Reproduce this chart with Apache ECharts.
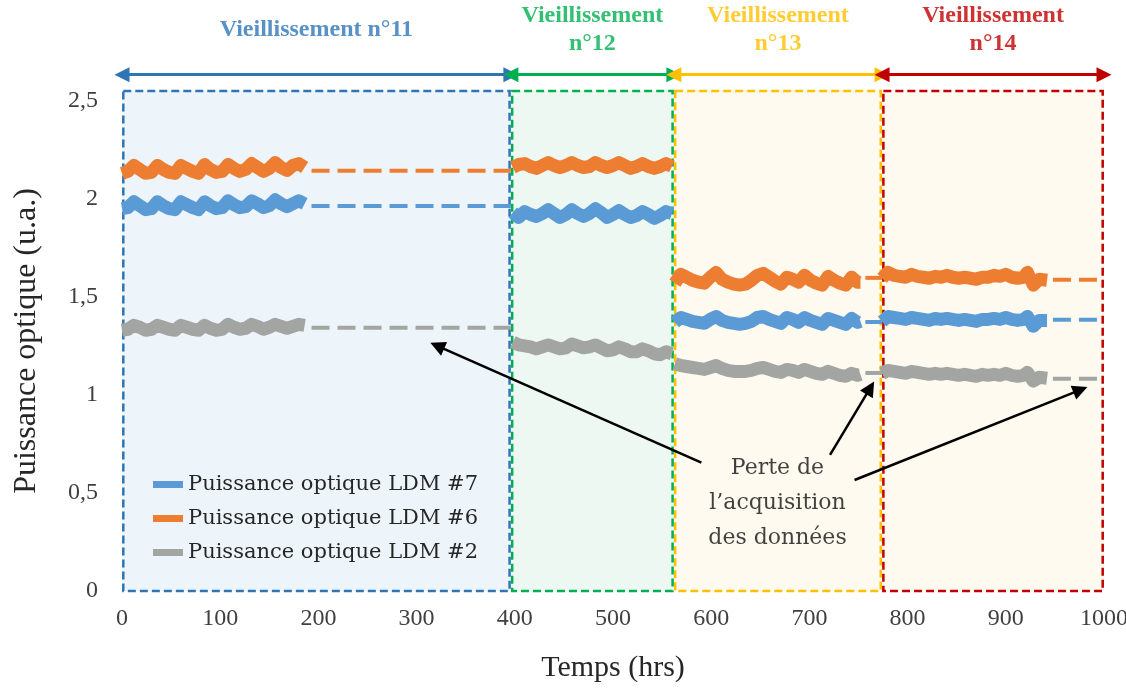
<!DOCTYPE html>
<html>
<head>
<meta charset="utf-8">
<script src="https://cdn.jsdelivr.net/npm/echarts@6/dist/echarts.min.js"></script>
<style>
  html, body { margin: 0; padding: 0; background: #ffffff; }
  #chart { width: 1126px; height: 690px; }
</style>
</head>
<body>
<div id="chart"></div>
<script>
// ---- Measurement segments (hours) ----
const T1 = [0,6,12,18,24,30,36,42,48,54,60,66,72,78,84,90,96,102,108,114,120,126,132,138,144,150,156,162,168,174,180,186];
const T2 = [398,404,410,416,422,428,434,440,446,452,458,464,470,476,482,488,494,500,506,512,518,524,530,536,542,548,554,560];
const T3 = [563,569,575,581,587,593,599,605,611,617,623,629,635,641,647,653,659,665,671,677,683,689,695,701,707,713,719,725,731,737,743,749,752];
const T4 = [774,780,786,792,798,804,810,816,822,828,834,840,846,852,858,864,870,876,882,888,894,900,906,912,918,922,928,934,942];

// ---- LDM #7 (u.a.) ----
const ldm7_s1 = [1.95,1.955,1.985,1.965,1.945,1.95,1.985,1.965,1.95,1.945,1.985,1.97,1.955,1.945,1.985,1.965,1.95,1.955,1.99,1.97,1.955,1.96,1.99,1.975,1.955,1.965,1.995,1.975,1.96,1.975,1.99,1.975];
const ldm7_s2 = [1.93,1.905,1.935,1.92,1.91,1.925,1.945,1.925,1.905,1.92,1.945,1.925,1.91,1.925,1.95,1.93,1.905,1.92,1.94,1.92,1.905,1.915,1.935,1.92,1.9,1.915,1.935,1.925];
const ldm7_s3 = [1.37,1.395,1.385,1.375,1.37,1.365,1.385,1.4,1.38,1.37,1.365,1.36,1.365,1.375,1.395,1.4,1.385,1.375,1.365,1.395,1.385,1.37,1.395,1.38,1.37,1.36,1.39,1.38,1.37,1.36,1.39,1.37,1.375];
const ldm7_s4 = [1.375,1.4,1.395,1.39,1.385,1.395,1.39,1.385,1.38,1.39,1.385,1.39,1.385,1.38,1.385,1.38,1.375,1.385,1.385,1.39,1.385,1.395,1.385,1.38,1.385,1.4,1.35,1.38,1.38];

// ---- LDM #6 (u.a.) ----
const ldm6_s1 = [2.13,2.14,2.17,2.15,2.13,2.135,2.17,2.15,2.135,2.13,2.17,2.155,2.14,2.13,2.175,2.15,2.135,2.14,2.175,2.155,2.14,2.15,2.18,2.16,2.14,2.155,2.185,2.16,2.145,2.17,2.18,2.16];
const ldm6_s2 = [2.16,2.175,2.18,2.165,2.155,2.17,2.185,2.17,2.16,2.17,2.185,2.17,2.16,2.165,2.185,2.17,2.16,2.17,2.185,2.17,2.155,2.165,2.18,2.165,2.155,2.165,2.18,2.165];
const ldm6_s3 = [1.57,1.615,1.6,1.585,1.575,1.57,1.6,1.625,1.59,1.575,1.565,1.56,1.565,1.585,1.61,1.62,1.6,1.58,1.565,1.6,1.59,1.575,1.61,1.585,1.57,1.56,1.605,1.585,1.57,1.56,1.6,1.575,1.575];
const ldm6_s4 = [1.595,1.625,1.61,1.605,1.6,1.615,1.605,1.6,1.595,1.605,1.6,1.61,1.6,1.595,1.6,1.595,1.59,1.6,1.6,1.61,1.605,1.615,1.6,1.595,1.6,1.625,1.56,1.59,1.585];

// ---- LDM #2 (u.a.) ----
const ldm2_s1 = [1.33,1.335,1.355,1.345,1.33,1.335,1.355,1.345,1.335,1.33,1.355,1.345,1.335,1.33,1.355,1.34,1.33,1.335,1.36,1.345,1.335,1.34,1.36,1.35,1.335,1.345,1.36,1.35,1.34,1.35,1.36,1.355];
const ldm2_s2 = [1.27,1.255,1.25,1.245,1.235,1.245,1.255,1.245,1.235,1.24,1.26,1.25,1.24,1.245,1.255,1.24,1.225,1.23,1.245,1.235,1.22,1.22,1.235,1.225,1.21,1.205,1.22,1.21];
const ldm2_s3 = [1.16,1.15,1.145,1.14,1.135,1.13,1.14,1.15,1.135,1.125,1.12,1.12,1.12,1.125,1.135,1.14,1.13,1.12,1.115,1.13,1.125,1.115,1.13,1.12,1.11,1.105,1.12,1.11,1.1,1.095,1.11,1.1,1.105];
const ldm2_s4 = [1.11,1.125,1.12,1.115,1.11,1.12,1.115,1.11,1.105,1.11,1.105,1.11,1.105,1.1,1.105,1.1,1.095,1.105,1.1,1.105,1.1,1.11,1.1,1.095,1.1,1.115,1.07,1.09,1.085];

// ---- Acquisition losses: spans (hours) and last known level per LDM ----
const GAP_SPANS = [[193, 396], [757, 774], [948, 1000]];
const ldm7_gap = [1.964, 1.372, 1.383];
const ldm6_gap = [2.143, 1.597, 1.587];
const ldm2_gap = [1.342, 1.112, 1.082];

// ---- Ageing phases (hours) ----
const PHASE_SPANS = [[0, 396], [396, 562], [562, 774], [774, 1000]];
const PHASE_LABELS = ['Vieillissement n°11', 'Vieillissement\nn°12', 'Vieillissement\nn°13', 'Vieillissement\nn°14'];
const PHASE_LABEL_X = [198, 479, 668, 887];

// ---- Axis ticks ----
const X_MIN = 0, X_MAX = 1000, X_STEP = 100;
const Y_MIN = 0, Y_TOP = 2.55, Y_STEP = 0.5;

// ---- Note on data loss ----
const NOTE_TEXT = 'Perte de\nl\u2019acquisition\ndes données';
const NOTE_POS = [667.5, 0.449];
const NOTE_ARROWS = [
  [[590, 0.655], [321, 1.25]],
  [[721, 0.694], [762, 1.036]],
  [[746, 0.566], [976, 1.026]]
];

// ---- Styling ----
const SERIES_NAMES = ['Puissance optique LDM #7', 'Puissance optique LDM #6', 'Puissance optique LDM #2'];
const SERIES_COLORS = ['#5B9BD5', '#ED7D31', '#A3A5A3'];
const PHASE_STROKES = ['#2E75B6', '#00B050', '#FFC000', '#C00000'];
const PHASE_FILLS = ['#EEF5FA', '#EEF8F3', '#FEFAF0', '#FEFAF0'];
const ARROW_Y = 2.633;
const LABEL_Y = 2.86;

const SEGMENT_TIMES = [T1, T2, T3, T4];
const LDM_SEGMENTS = [
  [ldm7_s1, ldm7_s2, ldm7_s3, ldm7_s4],
  [ldm6_s1, ldm6_s2, ldm6_s3, ldm6_s4],
  [ldm2_s1, ldm2_s2, ldm2_s3, ldm2_s4]
];
const LDM_GAPS = [ldm7_gap, ldm6_gap, ldm2_gap];

function pairs(ts, vs) { return ts.map((t, i) => [t, vs[i]]); }

const series = [];

// Phase background boxes
series.push({
  type: 'custom',
  silent: true,
  z: 0,
  clip: false,
  data: PHASE_SPANS,
  encode: { x: [0, 1] },
  renderItem: function (params, api) {
    const i = params.dataIndex;
    const a = api.coord([api.value(0), Y_TOP]);
    const b = api.coord([api.value(1), Y_MIN]);
    return {
      type: 'rect',
      shape: { x: a[0], y: a[1], width: b[0] - a[0], height: b[1] - a[1] },
      style: { fill: PHASE_FILLS[i], stroke: null }
    };
  }
});
// Phase dashed borders
series.push({
  type: 'custom',
  silent: true,
  z: 1,
  clip: false,
  data: PHASE_SPANS,
  encode: { x: [0, 1] },
  renderItem: function (params, api) {
    const i = params.dataIndex;
    const a = api.coord([api.value(0), Y_TOP]);
    const b = api.coord([api.value(1), Y_MIN]);
    const inset = 1.3;
    return {
      type: 'rect',
      z2: 10 - i,
      shape: { x: a[0] + inset, y: a[1], width: b[0] - a[0] - 2 * inset, height: b[1] - a[1] },
      style: { fill: null, stroke: PHASE_STROKES[i], lineWidth: 2.5, lineDash: [8, 4] }
    };
  }
});

// Measured power, one series per segment
LDM_SEGMENTS.forEach((segs, k) => {
  segs.forEach((vals, s) => {
    series.push({
      name: SERIES_NAMES[k],
      type: 'line',
      z: 3,
      showSymbol: false,
      symbol: 'none',
      data: pairs(SEGMENT_TIMES[s], vals),
      itemStyle: { color: SERIES_COLORS[k] },
      lineStyle: { color: SERIES_COLORS[k], width: 13, join: 'round', cap: 'butt' },
      emphasis: { disabled: true }
    });
  });
  // Levels held during acquisition losses
  GAP_SPANS.forEach((span, g) => {
    series.push({
      name: SERIES_NAMES[k],
      type: 'line',
      z: 3,
      showSymbol: false,
      symbol: 'none',
      data: [[span[0], LDM_GAPS[k][g]], [span[1], LDM_GAPS[k][g]]],
      itemStyle: { color: SERIES_COLORS[k] },
      lineStyle: { color: SERIES_COLORS[k], width: 4, type: [18, 8] },
      emphasis: { disabled: true }
    });
  });
});

// Double-headed arrows marking each phase
series.push({
  type: 'lines',
  coordinateSystem: 'cartesian2d',
  clip: false,
  silent: true,
  z: 4,
  symbol: ['triangle', 'triangle'],
  symbolSize: 15,
  data: PHASE_SPANS.map((span, i) => ({
    coords: [[span[0], ARROW_Y], [span[1], ARROW_Y]],
    lineStyle: { color: PHASE_STROKES[i], width: 3, opacity: 1 }
  }))
});

// Phase titles
series.push({
  type: 'scatter',
  clip: false,
  silent: true,
  z: 4,
  symbolSize: 0,
  data: PHASE_LABELS.map((txt, i) => ({
    value: [PHASE_LABEL_X[i], LABEL_Y],
    label: {
      show: true,
      position: 'inside',
      formatter: txt,
      color: PHASE_STROKES[i],
      fontFamily: 'Liberation Serif',
      fontWeight: 'bold',
      fontSize: 24,
      lineHeight: 28,
      align: 'center',
      verticalAlign: 'middle'
    }
  }))
});

// Data-loss note and its arrows
series.push({
  type: 'lines',
  coordinateSystem: 'cartesian2d',
  clip: false,
  silent: true,
  z: 5,
  symbol: ['none', 'triangle'],
  symbolSize: 15,
  lineStyle: { color: '#000000', width: 2.5, opacity: 1 },
  data: NOTE_ARROWS.map(c => ({ coords: c }))
});
series.push({
  type: 'scatter',
  clip: false,
  silent: true,
  z: 5,
  symbolSize: 0,
  data: [{
    value: NOTE_POS,
    label: {
      show: true,
      position: 'inside',
      formatter: NOTE_TEXT,
      color: '#111111',
      fontFamily: 'DejaVu Serif',
      fontSize: 22,
      lineHeight: 35,
      align: 'center',
      verticalAlign: 'middle'
    }
  }]
});

const chart = echarts.init(document.getElementById('chart'), null, { renderer: 'canvas' });
chart.setOption({
  animation: false,
  backgroundColor: '#ffffff',
  grid: { left: 122, right: 22, top: 91, bottom: 99, containLabel: false, outerBoundsMode: 'none' },
  legend: {
    data: SERIES_NAMES,
    orient: 'vertical',
    left: 148,
    top: 469,
    icon: 'rect',
    itemWidth: 30,
    itemHeight: 7,
    itemGap: 13,
    selectedMode: false,
    textStyle: { fontFamily: 'DejaVu Serif', fontSize: 21, color: '#262626' }
  },
  xAxis: {
    type: 'value',
    min: X_MIN,
    max: X_MAX,
    interval: X_STEP,
    name: 'Temps (hrs)',
    nameLocation: 'middle',
    nameGap: 62,
    nameTextStyle: { fontFamily: 'Liberation Serif', fontSize: 30, color: '#262626' },
    axisLine: { show: false },
    axisTick: { show: false },
    splitLine: { show: false },
    axisLabel: {
      margin: 16,
      fontFamily: 'Liberation Serif',
      fontSize: 24,
      color: '#404040',
      formatter: function (v) { return String(v); }
    }
  },
  yAxis: {
    type: 'value',
    min: Y_MIN,
    max: Y_TOP,
    interval: Y_STEP,
    name: 'Puissance optique (u.a.)',
    nameLocation: 'middle',
    nameGap: 79,
    nameTextStyle: { fontFamily: 'Liberation Serif', fontSize: 32, color: '#262626' },
    axisLine: { show: false },
    axisTick: { show: false },
    splitLine: { show: false },
    axisLabel: {
      margin: 24,
      fontFamily: 'Liberation Serif',
      fontSize: 24,
      color: '#404040',
      formatter: function (v) {
        const r = Math.round(v / Y_STEP) * Y_STEP;
        if (Math.abs(r - v) > 1e-6) return '';
        return String(+r.toFixed(1)).replace('.', ',');
      }
    }
  },
  series: series
});
</script>
</body>
</html>
